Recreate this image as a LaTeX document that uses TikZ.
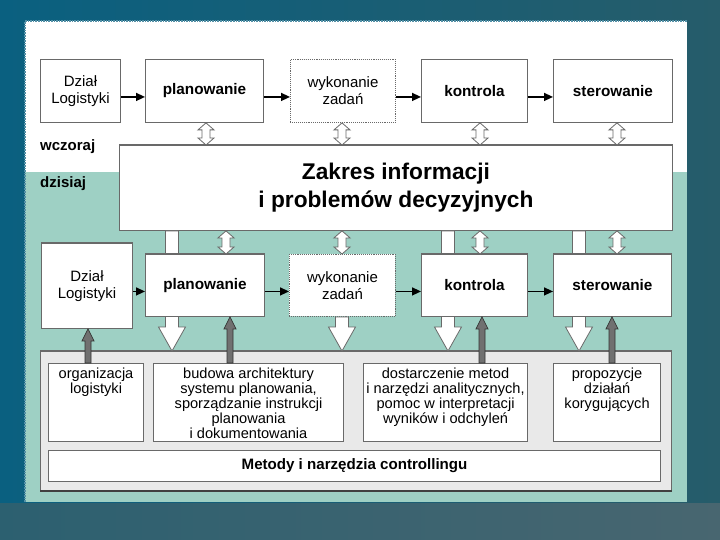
\documentclass[tikz,border=0pt]{standalone}
\usepackage{fontspec}
\setmainfont{Liberation Sans}
\usetikzlibrary{calc,arrows.meta}
\definecolor{bgA}{RGB}{10,96,128}
\definecolor{bgB}{RGB}{38,92,106}
\definecolor{bgC}{RGB}{44,96,112}
\definecolor{bgD}{RGB}{72,102,112}
\definecolor{lteal}{RGB}{158,208,196}
\definecolor{boxgray}{RGB}{105,105,105}
\definecolor{panelgray}{RGB}{233,233,233}
\definecolor{upgray}{RGB}{112,112,112}
\newcommand\mydblarr[3]{%
 \draw[#1] let \p1=(#2), \p2=(#3), \n1={sign(\y2-\y1)} in
 (\x1,\y1) -- ({\x1+8pt},{\y1+\n1*7pt}) -- ({\x1+4pt},{\y1+\n1*7pt})
 -- ({\x1+4pt},{\y2-\n1*7pt}) -- ({\x1+8pt},{\y2-\n1*7pt}) -- (\x1,\y2)
 -- ({\x1-8pt},{\y2-\n1*7pt}) -- ({\x1-4pt},{\y2-\n1*7pt})
 -- ({\x1-4pt},{\y1+\n1*7pt}) -- ({\x1-8pt},{\y1+\n1*7pt}) -- cycle;}
\newcommand\mysarr[6]{%
 \draw[#1] let \p1=(#2), \p2=(#3), \n1={sign(\y2-\y1)} in
 ({\x1-#4},\y1) -- ({\x1-#4},{\y2-\n1*#6}) -- ({\x1-#5},{\y2-\n1*#6})
 -- (\x1,\y2) -- ({\x1+#5},{\y2-\n1*#6}) -- ({\x1+#4},{\y2-\n1*#6})
 -- ({\x1+#4},\y1) -- cycle;}
\newcommand\topbox[3]{\parbox[c][#1][t]{#2}{\centering\rule{0pt}{14.5pt}#3}}
\begin{document}
\begin{tikzpicture}[x=1pt,y=-1pt,
 lbl/.style={font=\fontsize{15}{17}\selectfont},
 box/.style={draw=boxgray, line width=0.9pt, fill=white, inner sep=0pt,
   anchor=north west, align=center, lbl},
 dbox/.style={box, densely dotted},
 ibox/.style={draw=boxgray, line width=1.1pt, fill=white, inner sep=0pt,
   anchor=north west, font=\fontsize{14.6}{15}\selectfont},
 flow/.style={line width=1.4pt, -{Triangle[length=9pt,width=8pt]}},
 hollow/.style={fill=white, draw=boxgray, line width=0.8pt},
 bigdown/.style={fill=white, draw=boxgray, line width=0.8pt},
 up/.style={fill=upgray, draw=black!80, line width=0.7pt},
 thicktop/.style={draw=boxgray, line width=2.6pt},
 side/.style={font=\fontsize{15}{16}\selectfont\bfseries, anchor=west, inner sep=0pt}
]
\useasboundingbox (0,0) rectangle (720,540);
% background
\shade[left color=bgA, right color=bgB] (0,0) rectangle (720,540);
\shade[left color=bgC, right color=bgD] (0,503) rectangle (720,540);
% white / teal panel
\fill[white] (25,21) rectangle (687,172);
\fill[lteal] (25,172) rectangle (687,502);
\draw[bgA!70, densely dotted, line width=1.6pt] (25,502) -- (25,21) -- (687,21);

% side labels
\node[side] (wcz) at (40,147) {wczoraj};
\node[side] (dzi) at (40,184) {dzisiaj};

% top row
\node[box, minimum width=80, minimum height=63] (dl1) at (40,59) {Dział\\Logistyki};
\node[box, minimum width=118, minimum height=63, font=\fontsize{15.3}{17}\selectfont\bfseries] (pl1) at (145,59) {planowanie};
\node[dbox, minimum width=105, minimum height=63] (wz1) at (290,59) {wykonanie\\zadań};
\node[box, minimum width=106, minimum height=63, font=\fontsize{15.3}{17}\selectfont\bfseries] (ko1) at (421,59) {kontrola};
\node[box, minimum width=119, minimum height=63, font=\fontsize{15.3}{17}\selectfont\bfseries] (st1) at (553,59) {sterowanie};

% central box
\node[box, minimum width=553, minimum height=85,
  font=\fontsize{22.7}{28}\selectfont\bfseries] (zak) at (119,145)
  {Zakres informacji\\i problemów decyzyjnych};
\draw[thicktop] (zak.north west) -- (zak.north east);

% bottom panel
\node[draw=boxgray, line width=0.9pt, fill=panelgray, anchor=north west,
  minimum width=631, minimum height=139, inner sep=0pt] (panel) at (40,351) {};
\draw[boxgray, line width=2pt] (panel.north west) -- (panel.north east);
\draw[black!75, line width=2pt] (panel.south west) -- (panel.south east);

\node[ibox] (org) at (48,363) {\topbox{78pt}{95pt}{organizacja\\logistyki}};
\node[ibox] (bud) at (153,363) {\topbox{78pt}{190pt}{budowa architektury\\systemu planowania,\\sporządzanie instrukcji\\planowania\\i dokumentowania}};
\node[ibox] (dos) at (363,363) {\topbox{78pt}{164pt}{dostarczenie metod\\i narzędzi analitycznych,\\pomoc w interpretacji\\wyników i odchyleń}};
\node[ibox] (pro) at (553,363) {\topbox{78pt}{107pt}{propozycje\\działań\\korygujących}};
\node[ibox, minimum width=612, minimum height=31, font=\fontsize{15.1}{16}\selectfont\bfseries]
  (met) at (48,450) {Metody i narzędzia controllingu};

% column coordinates
\coordinate (w1) at (172,0);
\coordinate (w2) at (342,0);
\coordinate (w3) at (448,0);
\coordinate (w4) at (579,0);

% big white arrows from central box down to the panel
\mysarr{bigdown}{zak.south -| w1}{panel.north -| w1}{6.5pt}{13.5pt}{24pt}
\mysarr{bigdown}{zak.south -| w3}{panel.north -| w3}{6.5pt}{13.5pt}{24pt}
\mysarr{bigdown}{zak.south -| w4}{panel.north -| w4}{6.5pt}{13.5pt}{24pt}

% bottom row
\node[box, minimum width=91, minimum height=85] (dl2) at (41,243) {Dział\\Logistyki};
\draw[thicktop] (dl2.north west) -- (dl2.north east);
\node[box, minimum width=119, minimum height=62, font=\fontsize{15.3}{17}\selectfont\bfseries] (pl2) at (145,254) {planowanie};
\draw[thicktop] (pl2.north west) -- (pl2.north east);
\node[dbox, minimum width=106, minimum height=62] (wz2) at (289,254) {wykonanie\\zadań};
\node[box, minimum width=106, minimum height=62, font=\fontsize{15.3}{17}\selectfont\bfseries] (ko2) at (421,254) {kontrola};
\draw[thicktop] (ko2.north west) -- (ko2.north east);
\node[box, minimum width=118, minimum height=62, font=\fontsize{15.3}{17}\selectfont\bfseries] (st2) at (553,254) {sterowanie};
\draw[thicktop] (st2.north west) -- (st2.north east);

\mysarr{bigdown}{wz2.south -| w2}{panel.north -| w2}{6.5pt}{13.5pt}{24pt}

% double arrows
\coordinate (d1) at (206,0);
\coordinate (d2) at (342,0);
\coordinate (d3) at (480,0);
\coordinate (d4) at (617,0);
\coordinate (e1) at (226,0);
\mydblarr{hollow}{pl1.south -| d1}{zak.north -| d1}
\mydblarr{hollow}{wz1.south -| d2}{zak.north -| d2}
\mydblarr{hollow}{ko1.south -| d3}{zak.north -| d3}
\mydblarr{hollow}{st1.south -| d4}{zak.north -| d4}
\mydblarr{hollow}{zak.south -| e1}{pl2.north -| e1}
\mydblarr{hollow}{zak.south -| d2}{wz2.north -| d2}
\mydblarr{hollow}{zak.south -| d3}{ko2.north -| d3}
\mydblarr{hollow}{zak.south -| d4}{st2.north -| d4}

% grey up arrows
\coordinate (u1) at (88,0);
\coordinate (u2) at (230,0);
\coordinate (u3) at (482,0);
\coordinate (u4) at (612,0);
\mysarr{up}{org.north -| u1}{dl2.south -| u1}{3pt}{6pt}{12pt}
\mysarr{up}{bud.north -| u2}{pl2.south -| u2}{3pt}{6pt}{12pt}
\mysarr{up}{dos.north -| u3}{ko2.south -| u3}{3pt}{6pt}{12pt}
\mysarr{up}{pro.north -| u4}{st2.south -| u4}{3pt}{6pt}{12pt}

% flow arrows
\draw[flow] ($(dl1.east)+(0,6)$) -- ($(pl1.west)+(0,6)$);
\draw[flow] ($(pl1.east)+(0,6)$) -- ($(wz1.west)+(0,6)$);
\draw[flow] ($(wz1.east)+(0,6)$) -- ($(ko1.west)+(0,6)$);
\draw[flow] ($(ko1.east)+(0,6)$) -- ($(st1.west)+(0,6)$);
\coordinate (fp) at ($(pl2.west)+(0,6)$);
\draw[flow] (fp -| dl2.east) -- (fp);
\draw[flow] ($(pl2.east)+(0,6)$) -- ($(wz2.west)+(0,6)$);
\draw[flow] ($(wz2.east)+(0,6)$) -- ($(ko2.west)+(0,6)$);
\draw[flow] ($(ko2.east)+(0,6)$) -- ($(st2.west)+(0,6)$);
\end{tikzpicture}
\end{document}
